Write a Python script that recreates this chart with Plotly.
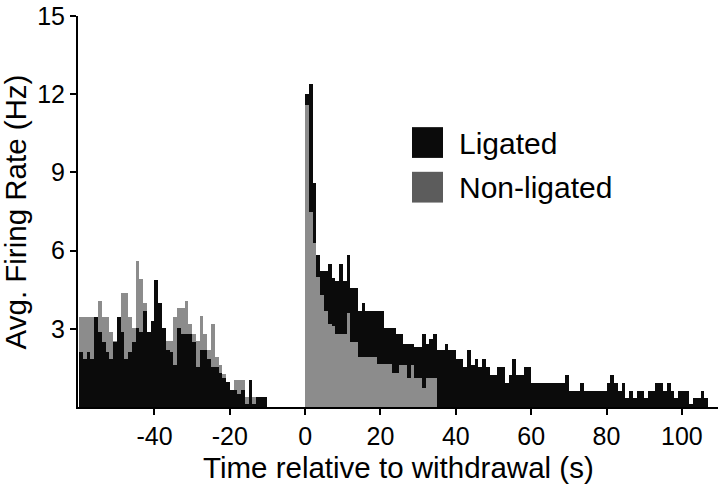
import plotly.graph_objects as go

# ---- data (bin start times in s, 1-s bins; rates in Hz) ----
pre_bins = list(range(-60, -10))
pre_nonligated = [3.47, 3.47, 3.47, 3.47, 3.0, 4.07, 3.47, 3.47, 2.87, 2.55,
                  3.47, 4.38, 4.38, 3.47, 3.05, 5.6, 4.9, 4.0, 2.87, 3.05,
                  3.47, 3.47, 2.55, 2.55, 2.55, 3.47, 3.8, 3.8, 4.07, 3.18,
                  2.8, 2.55, 3.5, 2.8, 2.17, 3.18, 1.92, 1.6, 1.28, 0.96,
                  0.65, 1.03, 1.03, 1.03, 0.4, 1.03, 0.4, 0.4, 0.4, 0.0]
pre_ligated = [2.1, 1.85, 2.1, 1.85, 3.45, 2.87, 2.5, 2.1, 1.85, 2.5,
               3.45, 2.87, 1.85, 2.1, 2.5, 3.05, 2.87, 3.69, 2.87, 3.3,
               4.89, 4.0, 3.05, 2.2, 2.1, 1.6, 3.05, 2.8, 2.8, 2.8,
               2.5, 1.53, 2.17, 2.17, 1.85, 1.53, 1.53, 1.3, 1.1, 0.96,
               0.65, 0.65, 0.5, 0.65, 0.1, 1.03, 0.1, 0.39, 0.39, 0.39]

post_bins_lig = list(range(0, 107))
post_ligated = [12.0, 12.4, 8.6, 5.84, 5.2, 5.2, 5.5, 4.95, 4.83, 5.5,
                4.83, 5.84, 4.57, 4.57, 3.69, 4.0, 3.69, 3.69, 3.69, 3.69,
                3.69, 3.05, 3.05, 3.05, 2.8, 2.8, 2.43, 2.43, 2.43, 2.3,
                2.3, 2.8, 2.43, 2.6, 2.8, 2.17, 2.17, 2.42, 2.17, 2.17,
                1.85, 1.85, 1.53, 2.17, 1.6, 1.85, 1.53, 1.85, 1.53, 1.22,
                1.22, 1.53, 1.53, 0.93, 1.22, 1.85, 1.22, 1.22, 1.53, 1.53,
                0.93, 0.93, 0.93, 0.93, 0.93, 0.93, 0.93, 0.93, 0.93, 1.22,
                0.62, 0.62, 0.62, 0.93, 0.62, 0.62, 0.62, 0.62, 0.62, 0.62,
                0.93, 1.22, 0.93, 0.62, 0.93, 0.33, 0.62, 0.33, 0.62, 0.62,
                0.33, 0.62, 0.62, 0.93, 0.93, 0.62, 0.93, 0.62, 0.33, 0.62,
                0.62, 0.62, 0.1, 0.33, 0.33, 0.62, 0.33]

post_bins_non = list(range(0, 35))
post_nonligated = [11.6, 7.5, 6.3, 5.0, 4.3, 3.7, 3.2, 3.1, 2.8, 2.8,
                   2.8, 3.6, 2.5, 2.5, 1.9, 1.9, 1.9, 1.9, 1.9, 1.65,
                   1.65, 1.65, 1.65, 1.3, 1.3, 1.6, 1.6, 1.1, 1.6, 1.1,
                   1.1, 0.71, 1.1, 1.1, 1.1]

x_ticks = [-40, -20, 0, 20, 40, 60, 80, 100]
y_ticks = [3, 6, 9, 12, 15]
series_names = ["Ligated", "Non-ligated"]

BLACK = "#0b0b0b"
GRAY = "#8c8c8c"
LEG_GRAY = "#5c5c5c"
FONT = "Arial, Liberation Sans, sans-serif"

fig = go.Figure()

def add_bars(xs, ys, color, name):
    fig.add_trace(go.Bar(x=xs, y=ys, width=1, offset=0, name=name,
                         marker=dict(color=color, line=dict(width=0)),
                         showlegend=False))

# pre-withdrawal: ligated drawn in front
add_bars(pre_bins, pre_nonligated, GRAY, series_names[1])
add_bars(pre_bins, pre_ligated, BLACK, series_names[0])
# post-withdrawal: non-ligated drawn in front
add_bars(post_bins_lig, post_ligated, BLACK, series_names[0])
add_bars(post_bins_non, post_nonligated, GRAY, series_names[1])

fig.update_layout(
    width=720, height=487,
    margin=dict(l=78, r=2, t=13, b=80),
    paper_bgcolor="white", plot_bgcolor="white",
    barmode="overlay", bargap=0,
    font=dict(family=FONT, color="black", size=25),
    showlegend=False,
)
fig.update_xaxes(range=[-60.3, 109.6], tickvals=x_ticks,
                 ticktext=[str(v) for v in x_ticks],
                 showline=True, linecolor="black", linewidth=2,
                 ticks="outside", ticklen=6, tickwidth=2, tickcolor="black",
                 showgrid=False, zeroline=False, ticklabeloverflow="allow",
                 tickfont=dict(size=25, family=FONT))
fig.update_yaxes(range=[0, 15], tickvals=y_ticks,
                 ticktext=[str(v) for v in y_ticks],
                 showline=True, linecolor="black", linewidth=2,
                 ticks="outside", ticklen=6, tickwidth=2, tickcolor="black",
                 showgrid=False, zeroline=False, ticklabeloverflow="allow",
                 tickfont=dict(size=25, family=FONT))

# axis titles
fig.add_annotation(text="Time relative to withdrawal (s)", xref="paper", yref="paper",
                   x=0.5, y=-0.155, xanchor="center", yanchor="middle",
                   showarrow=False, font=dict(size=29.5, family=FONT))
fig.add_annotation(text="Avg. Firing Rate (Hz)", xref="paper", yref="paper",
                   x=-0.097, y=0.50, xanchor="center", yanchor="middle", textangle=-90,
                   showarrow=False, font=dict(size=29.5, family=FONT))

# manual legend (large swatches)
leg_colors = [BLACK, LEG_GRAY]
for k, (nm, col) in enumerate(zip(series_names, leg_colors)):
    y0 = 125 + k * 45
    fig.add_shape(type="rect", xref="x domain", yref="y domain",
                  x0=(412 - 78) / 640, x1=(443 - 78) / 640,
                  y0=(407 - (y0 + 31)) / 394, y1=(407 - y0) / 394,
                  fillcolor=col, line=dict(width=0))
    fig.add_annotation(text=nm, xref="x domain", yref="y domain",
                       x=(457 - 78) / 640, y=(407 - (y0 + 16)) / 394,
                       xanchor="left", yanchor="middle", showarrow=False,
                       font=dict(size=30, family=FONT))

fig.write_html("out.html", config={"displayModeBar": False},
               post_script="document.body.style.margin='0';document.body.style.overflow='hidden';")
